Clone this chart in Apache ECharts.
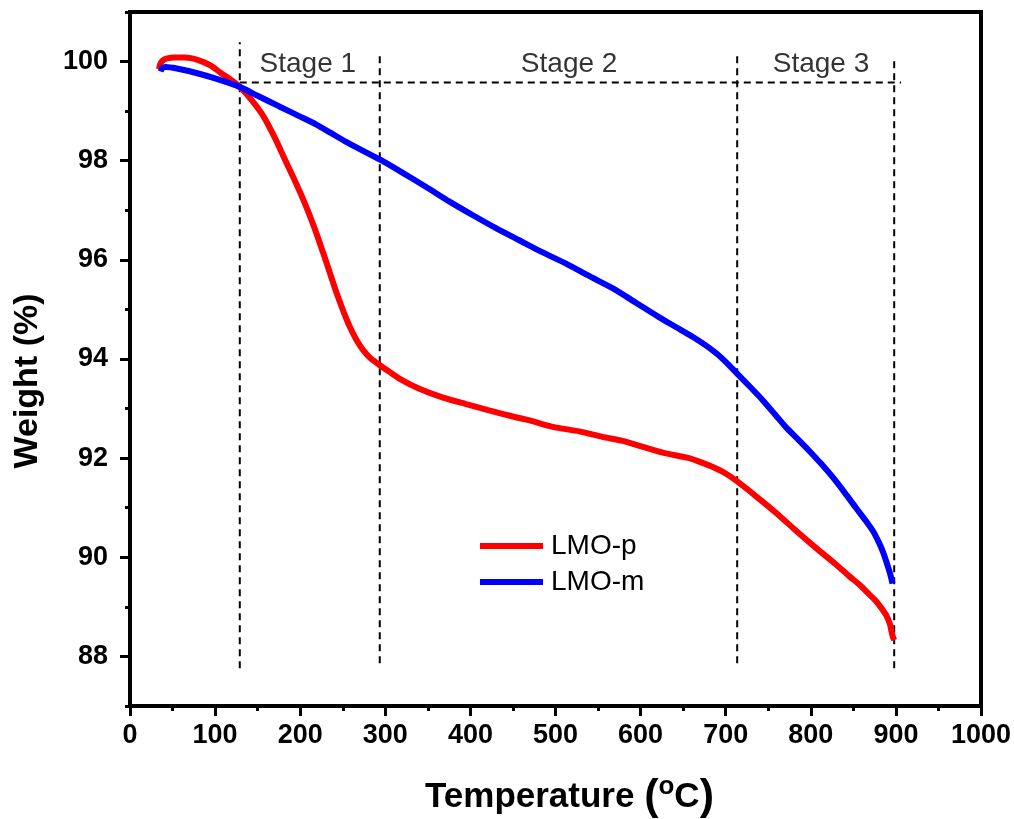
<!DOCTYPE html>
<html>
<head>
<meta charset="utf-8">
<script src="https://cdn.jsdelivr.net/npm/echarts@6/dist/echarts.min.js"></script>
<style>
html,body{margin:0;padding:0;background:#fff;}
#chart{width:1014px;height:819px;}
</style>
</head>
<body>
<div id="chart"></div>
<script>
// ---- data ----
const redT = [34, 36, 40, 45, 52, 65, 80, 95, 106, 118, 129, 143, 157, 170, 180, 192, 204, 216, 227, 235, 243, 251, 258, 266, 274, 283, 294, 305, 317, 340, 368, 395, 423, 450, 470, 497, 528, 555, 579, 604, 626, 657, 672, 685, 699, 712, 735, 759, 783, 806, 830, 845, 857, 867, 877, 884, 889, 893, 896, 898];
const redW = [99.85, 99.97, 100.04, 100.07, 100.08, 100.08, 100.03, 99.92, 99.78, 99.64, 99.49, 99.22, 98.89, 98.47, 98.10, 97.66, 97.20, 96.68, 96.14, 95.73, 95.32, 94.95, 94.66, 94.39, 94.18, 94.01, 93.87, 93.74, 93.60, 93.40, 93.22, 93.09, 92.96, 92.84, 92.76, 92.63, 92.54, 92.43, 92.35, 92.22, 92.11, 92.00, 91.91, 91.82, 91.70, 91.55, 91.24, 90.90, 90.53, 90.19, 89.85, 89.62, 89.45, 89.28, 89.11, 88.95, 88.82, 88.65, 88.42, 88.33];
const blueT = [36, 38, 42, 55, 78, 100, 129, 150, 176, 200, 219, 236, 254, 274, 294, 320, 348, 375, 403, 430, 458, 485, 513, 540, 568, 595, 622, 642, 662, 677, 690, 700, 712, 728, 744, 758, 771, 785, 798, 812, 826, 840, 853, 864, 873, 880, 885, 889, 893, 896];
const blueW = [99.80, 99.87, 99.89, 99.86, 99.77, 99.66, 99.49, 99.31, 99.09, 98.89, 98.73, 98.56, 98.38, 98.20, 98.02, 97.76, 97.47, 97.18, 96.90, 96.64, 96.39, 96.15, 95.92, 95.67, 95.42, 95.13, 94.84, 94.64, 94.44, 94.27, 94.10, 93.94, 93.73, 93.45, 93.16, 92.88, 92.62, 92.38, 92.15, 91.89, 91.61, 91.30, 91.00, 90.75, 90.53, 90.30, 90.10, 89.90, 89.68, 89.47];
const seriesNames = ['LMO-p', 'LMO-m'];

// stage divider lines (temperature, bottom weight, top weight)
const stageLineT = [129, 293.5, 713.5, 898];
const stageLineBottom = [87.76, 87.86, 87.86, 87.76];
const stageLineTop = [100.39, 100.18, 100.14, 100.03];
const hLineW = 99.58;
const hLineT = [129, 906];

const stageLabels = ['Stage 1', 'Stage 2', 'Stage 3'];
const stageLabelT = [209, 516, 812];
const stageLabelW = 99.95;

const xTicks = [0, 1000, 100];
const yMajor = [88, 90, 92, 94, 96, 98, 100];
const yMinor = [87, 89, 91, 93, 95, 97, 99, 101];

// ---- build ----
const FONT = 'Arial, "Liberation Sans", Helvetica, sans-serif';
const zip = (a, b) => a.map((v, i) => [v, b[i]]);

const dashStyle = { color: '#000', width: 2, type: [7, 5] };
const dashSeries = stageLineT.map((t, i) => ({
  type: 'line', data: [[t, stageLineBottom[i]], [t, stageLineTop[i]]],
  symbol: 'none', lineStyle: dashStyle, silent: true, z: 1
}));
dashSeries.push({
  type: 'line', data: [[hLineT[0], hLineW], [hLineT[1], hLineW]],
  symbol: 'none', lineStyle: dashStyle, silent: true, z: 1
});

const chart = echarts.init(document.getElementById('chart'));
chart.setOption({
  animation: false,
  backgroundColor: '#fff',
  textStyle: { fontFamily: FONT },
  grid: { left: 130, right: 33, top: 12, bottom: 113, outerBoundsMode: 'none', containLabel: false,
          show: true, borderColor: '#000', borderWidth: 4, backgroundColor: 'transparent' },
  legend: {
    data: seriesNames, orient: 'vertical', left: 475, top: 527,
    itemWidth: 63, itemHeight: 6, itemGap: 8, icon: 'rect',
    textStyle: { fontSize: 28, color: '#000', fontFamily: FONT, padding: [0, 0, 0, 3] }
  },
  xAxis: {
    type: 'value', min: xTicks[0], max: xTicks[1], interval: xTicks[2],
    name: '{t|Temperature }{p|(}{s|o}{t|C}{p|)}', nameLocation: 'middle', nameGap: 68,
    nameTextStyle: {
      padding: [0, 0, 0, 28],
      rich: {
        t: { fontSize: 35, fontWeight: 'bold', color: '#000', fontFamily: FONT },
        p: { fontSize: 43, fontWeight: 'bold', color: '#000', fontFamily: FONT },
        s: { fontSize: 26, fontWeight: 'bold', color: '#000', fontFamily: FONT, padding: [0, 0, 20, 0] }
      }
    },
    axisLine: { onZero: false, lineStyle: { color: '#000', width: 4 } },
    axisTick: { inside: false, length: 10, lineStyle: { color: '#000', width: 3 } },
    minorTick: { show: true, splitNumber: 2, length: 5, lineStyle: { color: '#000', width: 3 } },
    axisLabel: { fontSize: 27, fontWeight: 'bold', color: '#000', margin: 16, fontFamily: FONT,
                 formatter: v => String(v) },
    splitLine: { show: false }
  },
  yAxis: [{
    type: 'value', min: 87, max: 101,
    name: 'Weight (%)', nameLocation: 'middle', nameGap: 85,
    nameTextStyle: { fontSize: 34, fontWeight: 'bold', color: '#000', fontFamily: FONT, padding: [0, 44, 0, 0] },
    axisLine: { onZero: false, lineStyle: { color: '#000', width: 4 } },
    axisTick: { inside: false, length: 10, customValues: yMajor, lineStyle: { color: '#000', width: 3 } },
    axisLabel: { fontSize: 27, fontWeight: 'bold', color: '#000', margin: 22, customValues: yMajor, fontFamily: FONT },
    splitLine: { show: false }
  }, {
    type: 'value', min: 87, max: 101, position: 'left',
    axisLine: { show: false },
    axisTick: { show: true, inside: false, length: 5, customValues: yMinor, lineStyle: { color: '#000', width: 3 } },
    axisLabel: { show: false },
    splitLine: { show: false }
  }],
  series: [
    ...dashSeries,
    {
      type: 'scatter', data: stageLabelT.map((t, i) => ({ value: [t, stageLabelW], name: stageLabels[i] })),
      symbolSize: 0, silent: true, z: 3, itemStyle: { color: '#000' },
      label: { show: true, position: [0, 0], align: 'center', verticalAlign: 'middle',
               formatter: p => p.name, fontSize: 28, color: '#000', fontFamily: FONT }
    },
    {
      name: seriesNames[0], type: 'line', data: zip(redT, redW), smooth: 0.25, symbol: 'none',
      lineStyle: { color: '#ff0000', width: 6 }, itemStyle: { color: '#ff0000' }, z: 4
    },
    {
      name: seriesNames[1], type: 'line', data: zip(blueT, blueW), smooth: 0.25, symbol: 'none',
      lineStyle: { color: '#0000ff', width: 6 }, itemStyle: { color: '#0000ff' }, z: 5
    }
  ]
});
</script>
</body>
</html>
